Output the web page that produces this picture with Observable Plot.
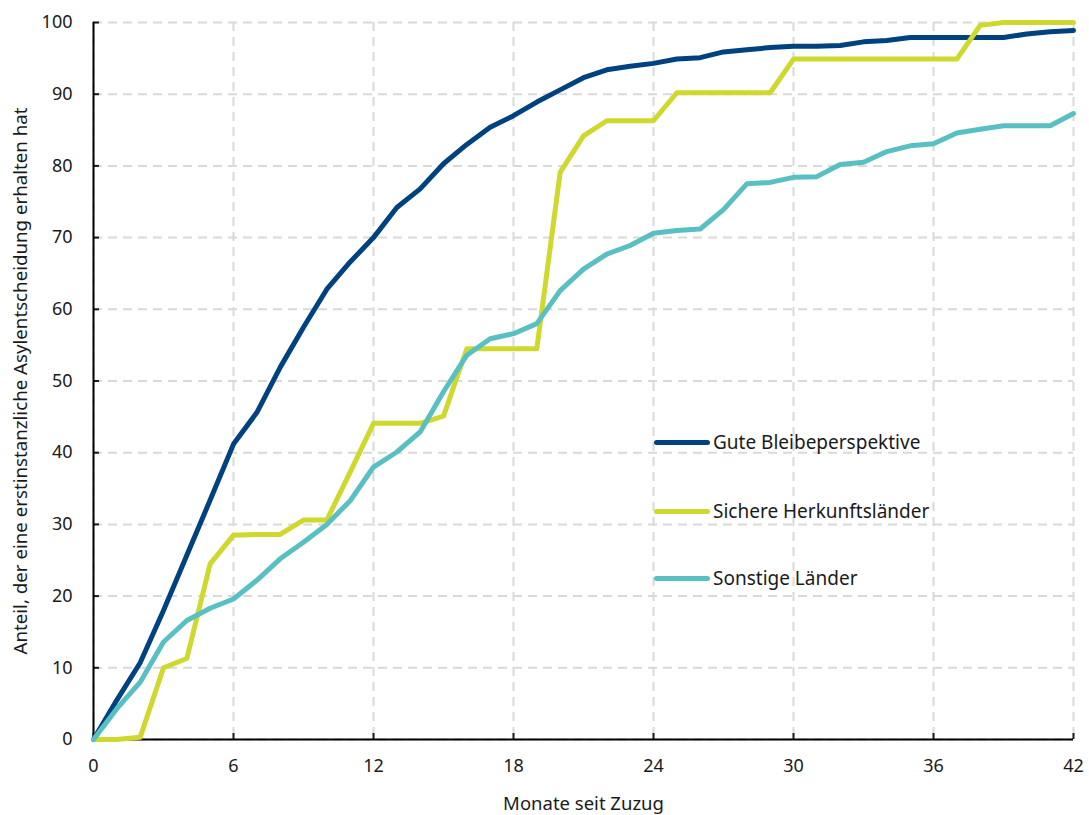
<!DOCTYPE html>
<html>
<head>
<meta charset="utf-8">
<script src="https://cdn.jsdelivr.net/npm/d3@7"></script>
<script src="https://cdn.jsdelivr.net/npm/@observablehq/plot@0.6"></script>
<style>
  html, body { margin: 0; padding: 0; background: #fff; }
  #wrap { position: relative; width: 1089px; height: 815px; font-family: "Noto Sans", sans-serif; }
  #legend { position: absolute; left: 654px; top: 429px; font-size: 19px; color: #1a1a1a; }
  .item { position: absolute; left: 0; white-space: nowrap; display: flex; align-items: center; height: 26px; }
  .swatch { width: 56px; height: 5px; border-radius: 3px; margin-right: 3px; }
</style>
</head>
<body>
<div id="wrap">
  <div id="chart"></div>
  <div id="legend"></div>
</div>
<script>
const months = d3.range(0, 43);
const seriesNames = ["Gute Bleibeperspektive", "Sichere Herkunftsländer", "Sonstige Länder"];
const seriesColors = ["#00427f", "#cfd82d", "#58c0c2"];
const gute = [0, 5.5, 10.7, 18.0, 25.7, 33.4, 41.2, 45.6, 51.9, 57.5, 62.8, 66.6, 70.0, 74.2, 76.8, 80.3, 83.0, 85.4, 87.0, 88.9, 90.6, 92.3, 93.4, 93.9, 94.3, 94.9, 95.1, 95.9, 96.2, 96.5, 96.7, 96.7, 96.8, 97.3, 97.5, 97.9, 97.9, 97.9, 97.9, 97.9, 98.4, 98.7, 98.9];
const sichere = [0, 0, 0.3, 10.0, 11.3, 24.5, 28.5, 28.6, 28.6, 30.6, 30.6, 37.3, 44.1, 44.1, 44.1, 45.1, 54.5, 54.5, 54.5, 54.5, 79.1, 84.2, 86.3, 86.3, 86.3, 90.2, 90.2, 90.2, 90.2, 90.2, 94.9, 94.9, 94.9, 94.9, 94.9, 94.9, 94.9, 94.9, 99.6, 100, 100, 100, 100];
const sonstige = [0, 4.3, 8.0, 13.6, 16.6, 18.3, 19.6, 22.2, 25.2, 27.5, 30.0, 33.3, 38.0, 40.1, 42.9, 48.5, 53.6, 55.9, 56.6, 58.0, 62.6, 65.6, 67.7, 68.9, 70.6, 71.0, 71.2, 73.9, 77.5, 77.7, 78.4, 78.5, 80.2, 80.5, 82.0, 82.8, 83.1, 84.6, 85.1, 85.6, 85.6, 85.6, 87.3];
const xTicks = [0, 6, 12, 18, 24, 30, 36, 42];
const yTicks = [0, 10, 20, 30, 40, 50, 60, 70, 80, 90, 100];
const xLabel = "Monate seit Zuzug";
const yLabel = "Anteil, der eine erstinstanzliche Asylentscheidung erhalten hat";

const values = [gute, sichere, sonstige];
const data = [];
values.forEach((vals, si) => vals.forEach((v, i) => data.push({month: months[i], value: v, series: seriesNames[si]})));

const chart = Plot.plot({
  width: 1089,
  height: 815,
  marginLeft: 93,
  marginRight: 16,
  marginTop: 22,
  marginBottom: 76,
  style: {fontFamily: "Noto Sans, sans-serif", fontSize: "18px", color: "#1a1a1a", background: "#fff"},
  x: {domain: [0, 42], ticks: xTicks},
  y: {domain: [0, 100], ticks: yTicks},
  color: {domain: seriesNames, range: seriesColors},
  marks: [
    Plot.gridX(xTicks, {stroke: "#d9d9d9", strokeOpacity: 1, strokeWidth: 2, strokeDasharray: "9,6"}),
    Plot.gridY(yTicks, {stroke: "#d9d9d9", strokeOpacity: 1, strokeWidth: 2, strokeDasharray: "9,6"}),
    Plot.axisX(xTicks, {tickSize: -6, tickPadding: 26, strokeWidth: 2, fontSize: 18, label: null}),
    Plot.axisY(yTicks, {tickSize: -6, tickPadding: 27, strokeWidth: 2, fontSize: 18, label: null}),
    Plot.axisX({ticks: [], label: xLabel, labelAnchor: "center", labelArrow: "none", labelOffset: 70, fontSize: 18.5}),
    Plot.axisY({ticks: [], label: yLabel, labelAnchor: "center", labelArrow: "none", labelOffset: 80, fontSize: 18.7}),
    Plot.ruleX([0], {stroke: "#000", strokeWidth: 2}),
    Plot.ruleY([0], {stroke: "#000", strokeWidth: 2}),
    Plot.line(data, {x: "month", y: "value", z: "series", stroke: "series", strokeWidth: 5, strokeLinejoin: "round", curve: "linear"})
  ]
});
document.getElementById("chart").appendChild(chart);

const legend = document.getElementById("legend");
const rowTops = [0, 69, 136];
seriesNames.forEach((name, i) => {
  const item = document.createElement("div");
  item.className = "item";
  item.style.top = rowTops[i] + "px";
  const sw = document.createElement("div");
  sw.className = "swatch";
  sw.style.background = seriesColors[i];
  const t = document.createElement("span");
  t.textContent = name;
  item.appendChild(sw);
  item.appendChild(t);
  legend.appendChild(item);
});
</script>
</body>
</html>
